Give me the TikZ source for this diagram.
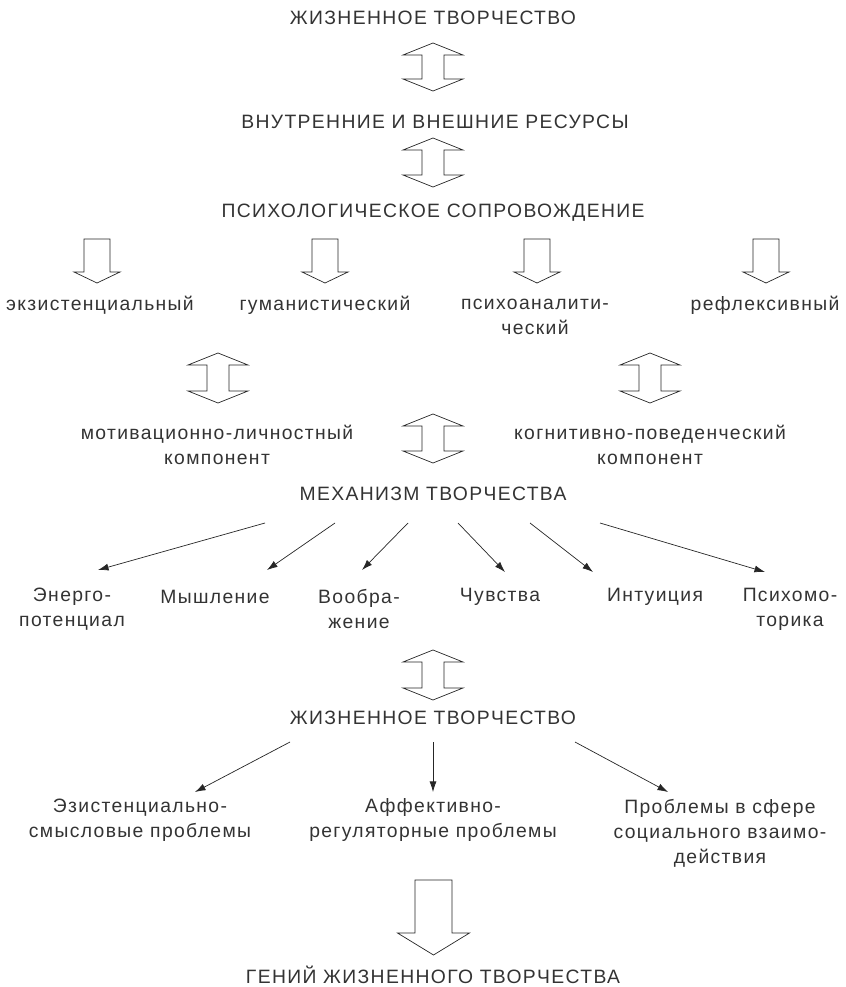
\documentclass[tikz,border=0pt]{standalone}
\usepackage{fontspec}
\setmainfont{Liberation Sans}[LetterSpace=7]
\usetikzlibrary{arrows.meta, calc}

\tikzset{
  lbl/.style={font=\fontsize{16.5}{21.3}\selectfont, text=black!80, align=center, inner sep=0pt},
  hollow/.style={draw=black!85, line width=0.6pt, line join=miter},
  thinarr/.style={draw=black!85, line width=0.6pt, -{Latex[length=9pt,width=6pt]}}
}

% hollow double arrow between two tips
\newcommand{\dblarrow}[2]{%
  \draw[hollow] (#1) -- ($(#1)+(30,12)$) -- ($(#1)+(11,12)$) -- ($(#2)+(11,-12)$)
    -- ($(#2)+(30,-12)$) -- (#2) -- ($(#2)+(-30,-12)$) -- ($(#2)+(-11,-12)$)
    -- ($(#1)+(-11,12)$) -- ($(#1)+(-30,12)$) -- cycle;}
% hollow down arrow: top of shaft, tip, shaft half width, head half width, head length
\newcommand{\hollowdown}[5]{%
  \draw[hollow] ($(#1)+(-#3,0)$) -- ($(#1)+(#3,0)$) -- ($(#2)+(#3,-#5)$) -- ($(#2)+(#4,-#5)$)
    -- (#2) -- ($(#2)+(-#4,-#5)$) -- ($(#2)+(-#3,-#5)$) -- cycle;}

\begin{document}
\begin{tikzpicture}[x=0.03cm, y=-0.03cm]
    \useasboundingbox (0,0) rectangle (845,987);

    % top chain
    \node[lbl] (life)  at (433,18)  {ЖИЗНЕННОЕ ТВОРЧЕСТВО};
    \node[lbl] (res)   at (435,122) {ВНУТРЕННИЕ И ВНЕШНИЕ РЕСУРСЫ};
    \node[lbl] (psy)   at (433,213) {ПСИХОЛОГИЧЕСКОЕ СОПРОВОЖДЕНИЕ};
    \coordinate (a1t) at (433,43);  \coordinate (a1b) at (433,91);
    \coordinate (a2t) at (433,138); \coordinate (a2b) at (433,187);
    \dblarrow{a1t}{a1b}
    \dblarrow{a2t}{a2b}

    % approaches
    \node[lbl] (exi)  at (100,305) {экзистенциальный};
    \node[lbl] (hum)  at (325,305) {гуманистический};
    \node[lbl] (pan)  at (535,317) {психоаналити-\\ческий};
    \node[lbl] (refl) at (765,305) {рефлексивный};
    \foreach \x/\n in {97/1, 325/2, 537/3, 766/4}{
        \coordinate (d\n t) at (\x,239);
        \coordinate (d\n b) at (\x,283);
        \hollowdown{d\n t}{d\n b}{13}{23}{11}
    }

    % components
    \node[lbl] (mot) at (217,445) {мотивационно-личностный\\компонент};
    \node[lbl] (cog) at (650,445) {когнитивно-поведенческий\\компонент};
    \coordinate (b1t) at (218,353); \coordinate (b1b) at (218,403);
    \coordinate (b2t) at (650,353); \coordinate (b2b) at (650,403);
    \coordinate (b3t) at (433,414); \coordinate (b3b) at (433,463);
    \dblarrow{b1t}{b1b}
    \dblarrow{b2t}{b2b}
    \dblarrow{b3t}{b3b}

    % mechanism
    \node[lbl] (mech) at (433,494) {МЕХАНИЗМ ТВОРЧЕСТВА};
    \node[lbl] (ener) at (72,609)  {Энерго-\\потенциал};
    \node[lbl] (think) at (215,597) {Мышление};
    \node[lbl] (imag) at (359,609) {Вообра-\\жение};
    \node[lbl] (feel) at (500,597) {Чувства};
    \node[lbl] (intu) at (655,597) {Интуиция};
    \node[lbl] (motor) at (790,609) {Психомо-\\торика};
    \foreach \sx/\ex/\ey/\n in {265/98/570/1, 335/267/570/2, 408/362/570/3,
                                458/505/572/4, 530/593/572/5, 600/765/572/6}{
        \coordinate (m\n s) at (\sx,523);
        \coordinate (m\n e) at (\ex,\ey);
        \draw[thinarr] (m\n s) -- (m\n e);
    }

    % life creativity
    \coordinate (c1t) at (433,650); \coordinate (c1b) at (433,700);
    \dblarrow{c1t}{c1b}
    \node[lbl] (life2) at (433,718) {ЖИЗНЕННОЕ ТВОРЧЕСТВО};
    \node[lbl] (prb1) at (140,820) {Эзистенциально-\\смысловые проблемы};
    \node[lbl] (prb2) at (433,820) {Аффективно-\\регуляторные проблемы};
    \node[lbl] (prb3) at (720,833) {Проблемы в сфере\\социального взаимо-\\действия};
    \coordinate (p1s) at (290,742); \coordinate (p1e) at (195,792);
    \coordinate (p2s) at (433,742); \coordinate (p2e) at (433,792);
    \coordinate (p3s) at (575,742); \coordinate (p3e) at (668,792);
    \draw[thinarr] (p1s) -- (p1e);
    \draw[thinarr] (p2s) -- (p2e);
    \draw[thinarr] (p3s) -- (p3e);

    % genius
    \coordinate (gt) at (433.5,880); \coordinate (gb) at (433.5,955);
    \hollowdown{gt}{gb}{18.5}{36}{22}
    \node[lbl] (gen) at (433,975) {ГЕНИЙ ЖИЗНЕННОГО ТВОРЧЕСТВА};
\end{tikzpicture}
\end{document}
